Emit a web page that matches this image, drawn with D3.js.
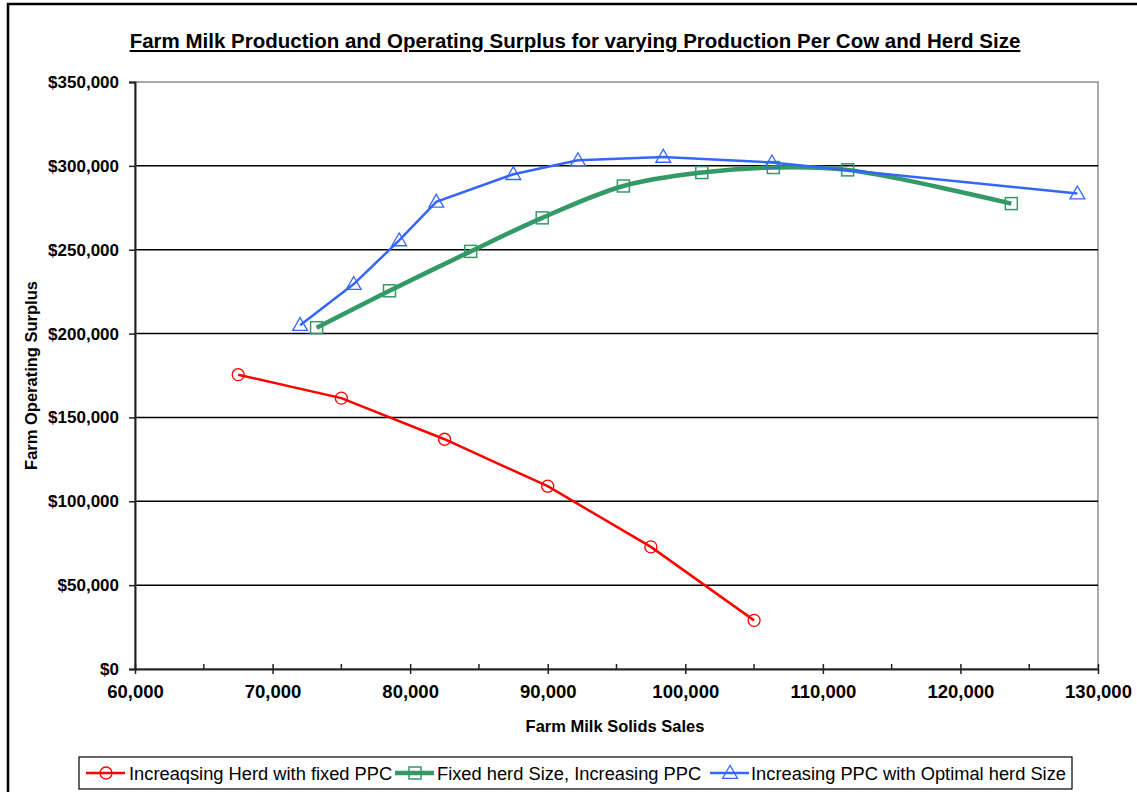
<!DOCTYPE html>
<html>
<head>
<meta charset="utf-8">
<script src="https://cdn.jsdelivr.net/npm/d3@7"></script>
<style>
  html, body { margin: 0; padding: 0; background: #fff; }
  svg { display: block; }
  text { font-family: "Liberation Sans", Arial, sans-serif; }
</style>
</head>
<body>
<svg id="chart" width="1137" height="792"></svg>
<script>
// ---------- data ----------
const chartTitle = "Farm Milk Production and Operating Surplus for varying Production Per Cow and Herd Size";
const xAxisTitle = "Farm Milk Solids Sales";
const yAxisTitle = "Farm Operating Surplus";

const seriesNames = [
  "Increaqsing Herd with fixed PPC",
  "Fixed herd Size, Increasing PPC",
  "Increasing PPC with Optimal herd Size"
];

const redX = [67500, 75000, 82500, 90000, 97500, 105000];
const redY = [175500, 161500, 137000, 109000, 72800, 29000];

const greenX = [73200, 78500, 84400, 89600, 95500, 101200, 106400, 111800, 123700];
const greenY = [203500, 225500, 249000, 269000, 288000, 296000, 299000, 297600, 277500];

const blueX = [72000, 75900, 79200, 81900, 87500, 92200, 98400, 106300, 128500];
const blueY = [205000, 229500, 255500, 278500, 295000, 303300, 305300, 302000, 283500];

const xTicks = [60000, 70000, 80000, 90000, 100000, 110000, 120000, 130000];
const xMinorTicks = [65000, 75000, 85000, 95000, 105000, 115000, 125000];
const yTicks = [0, 50000, 100000, 150000, 200000, 250000, 300000, 350000];

// ---------- layout ----------
const svg = d3.select("#chart");
const plot = { left: 135, right: 1098, top: 82, bottom: 669 };

const x = d3.scaleLinear().domain([60000, 130000]).range([plot.left, plot.right]);
const y = d3.scaleLinear().domain([0, 350000]).range([plot.bottom, plot.top]);

// outer chart border
svg.append("rect")
  .attr("x", 8).attr("y", 4)
  .attr("width", 1140).attr("height", 800)
  .attr("fill", "none").attr("stroke", "#000").attr("stroke-width", 2.5);

// title
svg.append("text")
  .attr("x", 575).attr("y", 48)
  .attr("text-anchor", "middle")
  .attr("font-size", 20.5).attr("font-weight", "bold")
  .attr("text-decoration", "underline")
  .text(chartTitle);

// plot area border (grey)
svg.append("rect")
  .attr("x", plot.left).attr("y", plot.top)
  .attr("width", plot.right - plot.left).attr("height", plot.bottom - plot.top)
  .attr("fill", "#fff").attr("stroke", "#8c8c8c").attr("stroke-width", 1.5);

// gridlines
svg.append("g").selectAll("line")
  .data(yTicks.filter(d => d > 0 && d < 350000))
  .join("line")
  .attr("x1", plot.left).attr("x2", plot.right)
  .attr("y1", d => y(d)).attr("y2", d => y(d))
  .attr("stroke", "#000").attr("stroke-width", 1.5);

// y axis
const yAxis = svg.append("g")
  .attr("transform", `translate(${plot.left},0)`)
  .call(d3.axisLeft(y).tickValues(yTicks).tickSize(6).tickPadding(10)
    .tickFormat(d => "$" + d3.format(",")(d)));
yAxis.select(".domain").attr("stroke", "#222").attr("stroke-width", 2);
yAxis.selectAll(".tick line").attr("stroke", "#222").attr("stroke-width", 1.5);
yAxis.selectAll(".tick text")
  .attr("font-family", "Liberation Sans, Arial, sans-serif")
  .attr("font-size", 17).attr("font-weight", "bold").attr("fill", "#000");

// x axis
const xAxis = svg.append("g")
  .attr("transform", `translate(0,${plot.bottom})`)
  .call(d3.axisBottom(x).tickValues(xTicks).tickSizeInner(5).tickSizeOuter(0).tickPadding(11)
    .tickFormat(d3.format(",")));
xAxis.select(".domain").attr("stroke", "#222").attr("stroke-width", 2);
xAxis.selectAll(".tick line").attr("y1", -5).attr("stroke", "#222").attr("stroke-width", 1.5);
xAxis.selectAll(".tick text")
  .attr("font-family", "Liberation Sans, Arial, sans-serif")
  .attr("font-size", 18.5).attr("font-weight", "bold").attr("fill", "#000");

// x minor ticks (inside)
svg.append("g").selectAll("line")
  .data(xMinorTicks)
  .join("line")
  .attr("x1", d => x(d)).attr("x2", d => x(d))
  .attr("y1", plot.bottom).attr("y2", plot.bottom - 5)
  .attr("stroke", "#222").attr("stroke-width", 1.5);

// axis titles
svg.append("text")
  .attr("x", 615).attr("y", 732)
  .attr("text-anchor", "middle")
  .attr("font-size", 16.5).attr("font-weight", "bold")
  .text(xAxisTitle);

svg.append("text")
  .attr("transform", `translate(37,${(plot.top + plot.bottom) / 2}) rotate(-90)`)
  .attr("text-anchor", "middle")
  .attr("font-size", 16.5).attr("font-weight", "bold")
  .text(yAxisTitle);

// ---------- series ----------
const red = redX.map((v, i) => ({ x: v, y: redY[i] }));
const green = greenX.map((v, i) => ({ x: v, y: greenY[i] }));
const blue = blueX.map((v, i) => ({ x: v, y: blueY[i] }));

const lineLinear = d3.line().x(d => x(d.x)).y(d => y(d.y));
const lineSmooth = d3.line().x(d => x(d.x)).y(d => y(d.y)).curve(d3.curveCatmullRom.alpha(0.5));

const cRed = "#ff0000", cGreen = "#339966", cBlue = "#3366ff";

function circleMarker(g, data, color) {
  g.selectAll("circle.mk").data(data).join("circle").attr("class", "mk")
    .attr("cx", d => x(d.x)).attr("cy", d => y(d.y)).attr("r", 6)
    .attr("fill", "none").attr("stroke", color).attr("stroke-width", 1.3);
}
function squareMarker(g, data, color) {
  g.selectAll("rect.mk").data(data).join("rect").attr("class", "mk")
    .attr("x", d => x(d.x) - 6).attr("y", d => y(d.y) - 6)
    .attr("width", 12).attr("height", 12)
    .attr("fill", "none").attr("stroke", color).attr("stroke-width", 1.5);
}
const triPath = d3.symbol().type(d3.symbolTriangle).size(95);
function triMarker(g, data, color) {
  g.selectAll("path.mk").data(data).join("path").attr("class", "mk")
    .attr("transform", d => `translate(${x(d.x)},${y(d.y) + 1})`)
    .attr("d", triPath)
    .attr("fill", "none").attr("stroke", color).attr("stroke-width", 1.3);
}

const gRed = svg.append("g");
gRed.append("path").attr("class", "ln").datum(red).attr("d", lineLinear)
  .attr("fill", "none").attr("stroke", cRed).attr("stroke-width", 2.5);
circleMarker(gRed, red, cRed);

const gGreen = svg.append("g");
gGreen.append("path").attr("class", "ln").datum(green).attr("d", lineSmooth)
  .attr("fill", "none").attr("stroke", cGreen).attr("stroke-width", 4.5);
squareMarker(gGreen, green, cGreen);

const gBlue = svg.append("g");
gBlue.append("path").attr("class", "ln").datum(blue).attr("d", lineLinear)
  .attr("fill", "none").attr("stroke", cBlue).attr("stroke-width", 2.5);
triMarker(gBlue, blue, cBlue);

// ---------- legend ----------
const legend = svg.append("g");
legend.append("rect")
  .attr("x", 79).attr("y", 757).attr("width", 993).attr("height", 32)
  .attr("fill", "#fff").attr("stroke", "#000").attr("stroke-width", 1.2);

const legendItems = [
  { name: seriesNames[0], color: cRed, width: 2.5, marker: "circle", x0: 86, tx: 129 },
  { name: seriesNames[1], color: cGreen, width: 4.5, marker: "square", x0: 395, tx: 437 },
  { name: seriesNames[2], color: cBlue, width: 2.5, marker: "tri", x0: 710, tx: 751 }
];
const ly = 773;
legendItems.forEach(it => {
  const g = legend.append("g");
  g.append("line").attr("x1", it.x0).attr("x2", it.x0 + 39)
    .attr("y1", ly).attr("y2", ly)
    .attr("stroke", it.color).attr("stroke-width", it.width);
  const cx = it.x0 + 20;
  if (it.marker === "circle") {
    g.append("circle").attr("cx", cx).attr("cy", ly).attr("r", 6)
      .attr("fill", "none").attr("stroke", it.color).attr("stroke-width", 1.3);
  } else if (it.marker === "square") {
    g.append("rect").attr("x", cx - 6).attr("y", ly - 6).attr("width", 12).attr("height", 12)
      .attr("fill", "none").attr("stroke", it.color).attr("stroke-width", 1.5);
  } else {
    g.append("path").attr("transform", `translate(${cx},${ly + 1})`).attr("d", triPath)
      .attr("fill", "none").attr("stroke", it.color).attr("stroke-width", 1.3);
  }
  g.append("text").attr("x", it.tx).attr("y", ly + 6.5)
    .attr("font-size", 18.3).text(it.name);
});
</script>
</body>
</html>
